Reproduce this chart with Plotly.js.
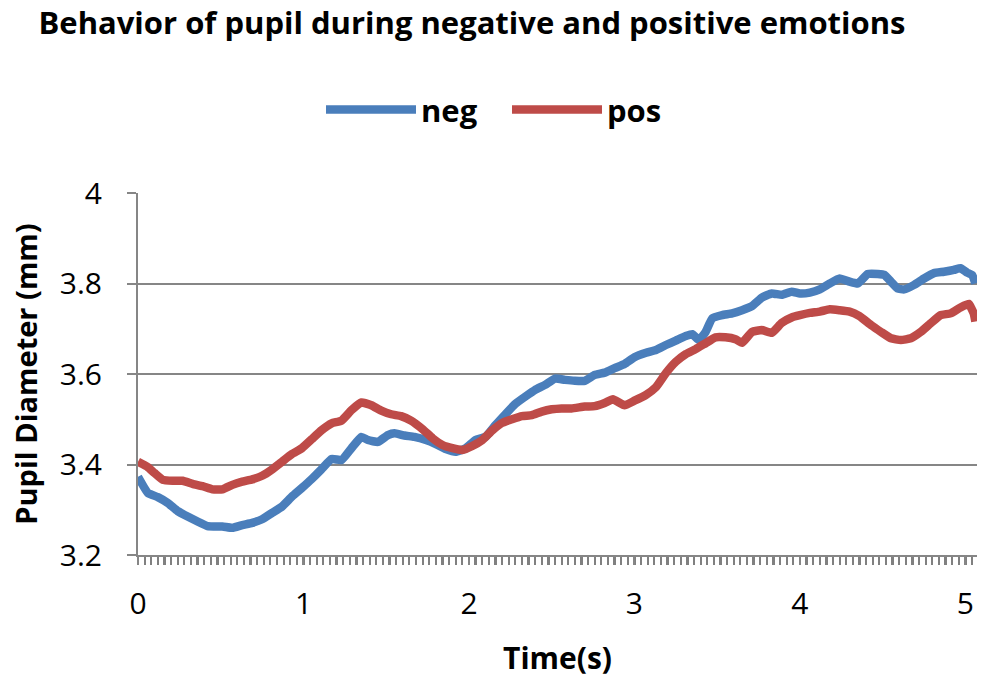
<!DOCTYPE html>
<html>
<head>
<meta charset="utf-8">
<script src="https://cdn.plot.ly/plotly-3.0.1.min.js"></script>
<style>
  body { margin: 0; background: #fff; }
  #chart { width: 1000px; height: 678px; }
</style>
</head>
<body>
<div id="chart"></div>
<script>
// pupil diameter (mm), time in seconds
var negTime = [0, 0.06, 0.12, 0.18, 0.24, 0.30, 0.36, 0.42, 0.51, 0.57, 0.63, 0.69, 0.75, 0.81, 0.87, 0.93, 0.99,
  1.05, 1.11, 1.17, 1.23, 1.29, 1.35, 1.39, 1.45, 1.51, 1.55, 1.61, 1.67, 1.74, 1.80, 1.86, 1.92, 1.98,
  2.04, 2.10, 2.16, 2.22, 2.28, 2.34, 2.40, 2.46, 2.52, 2.58, 2.64, 2.70, 2.76, 2.82, 2.88, 2.94,
  3.00, 3.07, 3.13, 3.19, 3.25, 3.31, 3.35, 3.39, 3.43, 3.47, 3.53, 3.59, 3.65, 3.71, 3.77, 3.83, 3.89, 3.95,
  4.00, 4.06, 4.12, 4.18, 4.24, 4.30, 4.35, 4.41, 4.47, 4.51, 4.55, 4.59, 4.63, 4.69, 4.75, 4.81, 4.87, 4.93, 4.97,
  5.01, 5.04, 5.06];
var negDiam = [3.373, 3.337, 3.328, 3.315, 3.297, 3.285, 3.274, 3.264, 3.263, 3.260, 3.266, 3.271, 3.279, 3.293, 3.307, 3.329, 3.348,
  3.368, 3.390, 3.412, 3.410, 3.436, 3.461, 3.454, 3.450, 3.465, 3.469, 3.464, 3.461, 3.454, 3.445, 3.434, 3.428, 3.436,
  3.454, 3.461, 3.487, 3.511, 3.534, 3.550, 3.565, 3.576, 3.590, 3.587, 3.585, 3.585, 3.598, 3.603, 3.613, 3.622,
  3.637, 3.647, 3.653, 3.664, 3.674, 3.684, 3.688, 3.675, 3.693, 3.723, 3.730, 3.734, 3.741, 3.750, 3.769, 3.778, 3.775, 3.782,
  3.778, 3.780, 3.787, 3.800, 3.811, 3.804, 3.800, 3.821, 3.821, 3.819, 3.804, 3.789, 3.787, 3.797, 3.811, 3.823, 3.826, 3.830, 3.834,
  3.824, 3.819, 3.800];

var posTime = [0, 0.06, 0.10, 0.15, 0.21, 0.27, 0.33, 0.39, 0.45, 0.51, 0.57, 0.63, 0.69, 0.75, 0.81, 0.87, 0.93, 0.99,
  1.05, 1.11, 1.17, 1.23, 1.29, 1.35, 1.41, 1.47, 1.53, 1.59, 1.65, 1.72, 1.78, 1.84, 1.90, 1.96,
  2.02, 2.08, 2.14, 2.20, 2.26, 2.32, 2.38, 2.44, 2.50, 2.56, 2.62, 2.70, 2.76, 2.82, 2.87, 2.94,
  3.00, 3.07, 3.13, 3.19, 3.25, 3.31, 3.37, 3.43, 3.49, 3.55, 3.61, 3.65, 3.71, 3.77, 3.83, 3.89, 3.95,
  4.00, 4.06, 4.12, 4.18, 4.24, 4.30, 4.36, 4.43, 4.49, 4.55, 4.61, 4.67, 4.73, 4.79, 4.85, 4.91, 4.97,
  5.02, 5.05, 5.06];
var posDiam = [3.406, 3.394, 3.381, 3.366, 3.364, 3.364, 3.357, 3.352, 3.345, 3.345, 3.355, 3.362, 3.367, 3.375, 3.389, 3.406, 3.423, 3.436,
  3.456, 3.476, 3.491, 3.497, 3.520, 3.537, 3.531, 3.519, 3.511, 3.507, 3.497, 3.478, 3.458, 3.443, 3.436, 3.432,
  3.441, 3.454, 3.475, 3.492, 3.500, 3.507, 3.509, 3.517, 3.522, 3.524, 3.524, 3.528, 3.529, 3.536, 3.544, 3.531,
  3.541, 3.554, 3.571, 3.602, 3.627, 3.644, 3.655, 3.668, 3.681, 3.681, 3.677, 3.669, 3.693, 3.697, 3.691, 3.713, 3.725,
  3.730, 3.735, 3.738, 3.743, 3.741, 3.738, 3.728, 3.708, 3.693, 3.679, 3.675, 3.679, 3.693, 3.712, 3.730, 3.734, 3.747,
  3.755, 3.734, 3.716];

var yTicks = [3.2, 3.4, 3.6, 3.8, 4];
var yTickText = ['3.2', '3.4', '3.6', '3.8', '4'];
var xTicks = [0, 1, 2, 3, 4, 5];

var gray = '#868686';
var bold = 'Open Sans, sans-serif';

var negTrace = {
  x: negTime, y: negDiam, name: 'neg', type: 'scatter', mode: 'lines',
  line: {color: '#4a7ebb', width: 8.5, shape: 'spline', smoothing: 0.4}
};
var posTrace = {
  x: posTime, y: posDiam, name: 'pos', type: 'scatter', mode: 'lines',
  line: {color: '#be4b48', width: 8.5, shape: 'spline', smoothing: 0.4}
};

var layout = {
  width: 1000, height: 678,
  margin: {l: 138, r: 23, t: 193, b: 123},
  paper_bgcolor: '#fff', plot_bgcolor: '#fff',
  font: {family: 'Open Sans, sans-serif', color: '#000'},
  title: {
    text: '<b>Behavior of pupil during negative and positive emotions</b>',
    font: {family: bold, size: 31, color: '#000'},
    xref: 'container', yref: 'container', x: 0.472, y: 0.966, xanchor: 'center', yanchor: 'middle'
  },
  showlegend: true,
  legend: {
    orientation: 'h', xref: 'container', yref: 'container',
    x: 0.507, y: 0.838, xanchor: 'center', yanchor: 'middle',
    font: {family: bold, size: 31, color: '#000', weight: 'bold'},
    itemwidth: 90, entrywidth: 81, entrywidthmode: 'pixels'
  },
  xaxis: {
    range: [0, 5.07],
    tickvals: xTicks,
    ticks: 'outside', ticklen: 8, tickwidth: 2, tickcolor: gray,
    minor: {dtick: 0.04, tick0: 0, ticks: 'outside', ticklen: 8, tickwidth: 2.2, tickcolor: '#808080', showgrid: false},
    ticklabelstandoff: 13,
    tickfont: {size: 30, color: '#000'},
    showgrid: false, zeroline: false,
    showline: true, linecolor: gray, linewidth: 2,
    title: {text: '<b>Time(s)</b>', font: {family: bold, size: 30, color: '#000'}, standoff: 27}
  },
  yaxis: {
    range: [3.2, 4],
    tickvals: yTicks, ticktext: yTickText,
    ticks: 'outside', ticklen: 9, tickwidth: 2, tickcolor: gray,
    ticklabelstandoff: 19,
    tickfont: {size: 30, color: '#000'},
    showgrid: true, gridcolor: gray, gridwidth: 2, zeroline: false,
    showline: true, linecolor: gray, linewidth: 2,
    title: {text: '<b>Pupil Diameter (mm)</b>', font: {family: bold, size: 29, color: '#000'}, standoff: 14}
  }
};

Plotly.newPlot('chart', [negTrace, posTrace], layout, {displayModeBar: false, staticPlot: true});
</script>
</body>
</html>
